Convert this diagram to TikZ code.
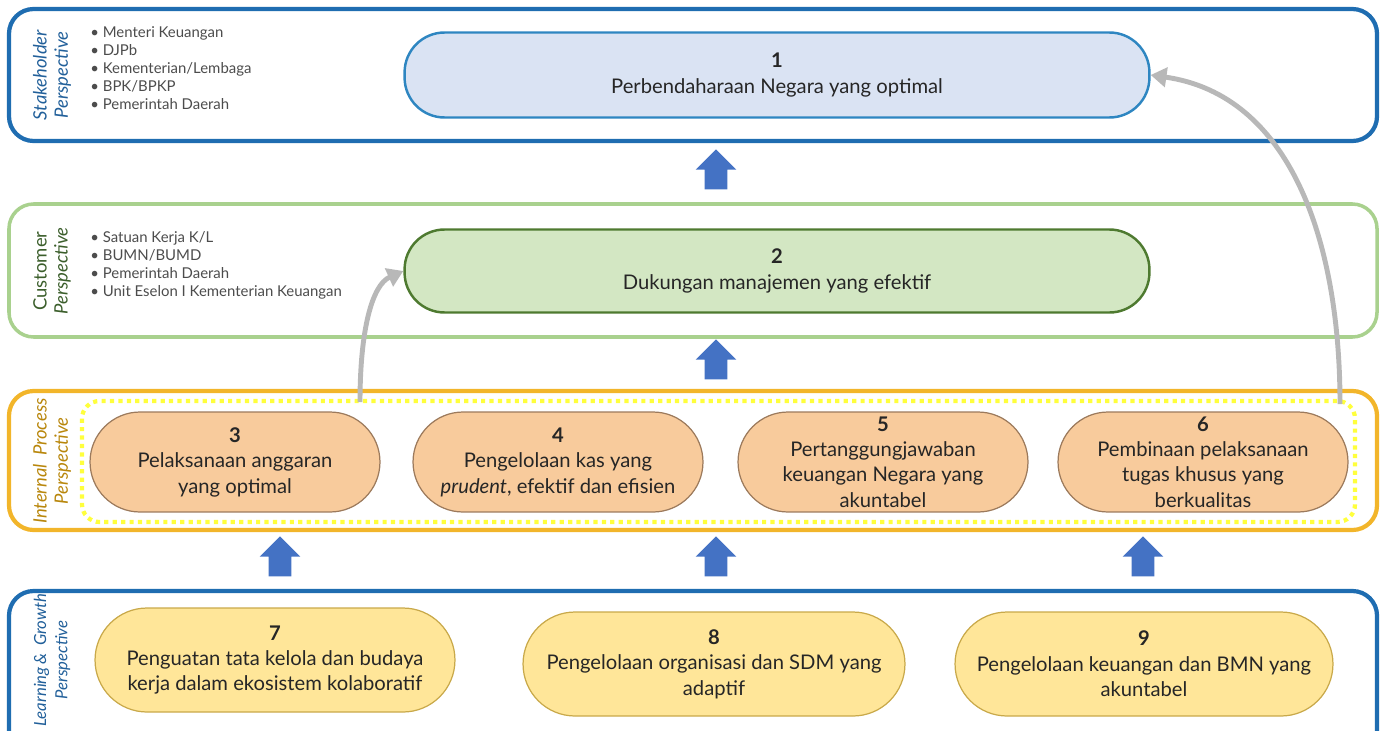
\documentclass[tikz,border=0pt]{standalone}
\usepackage{fontspec}
\setmainfont{Lato}
\usetikzlibrary{arrows.meta,shapes.arrows}
\definecolor{bandblue}{HTML}{1F6DB1}
\definecolor{goalblue}{HTML}{DAE3F3}
\definecolor{goalblueline}{HTML}{2E86C1}
\definecolor{bandgreen}{HTML}{A9D18E}
\definecolor{goalgreen}{HTML}{D3E7C3}
\definecolor{goalgreenline}{HTML}{4E7A30}
\definecolor{bandgold}{HTML}{F2B52A}
\definecolor{dotyellow}{HTML}{FFFF3C}
\definecolor{goalorange}{HTML}{F8CB9C}
\definecolor{goalorangeline}{HTML}{9C7A5C}
\definecolor{goalyellow}{HTML}{FFE699}
\definecolor{goalyellowline}{HTML}{C9A94A}
\definecolor{liftblue}{HTML}{4472C4}
\definecolor{sidegreen}{HTML}{3B5E2B}
\definecolor{sidegold}{HTML}{B8860B}
\definecolor{sideblue}{HTML}{22609A}
\tikzset{
  band/.style={line width=2.4pt, rounded corners=14pt},
  goal/.style={draw, line width=0.7pt, align=center, inner sep=0pt,
    font=\fontsize{11.5}{14.5}\selectfont, text=black!85},
  sidelabel/.style={rotate=90, align=center, font=\fontsize{10.5}{12}\selectfont},
  members/.style={anchor=north west, align=left, inner sep=0pt, text=black!70,
    font=\fontsize{8.5}{10.3}\selectfont},
  lift/.style={single arrow, draw=none, fill=liftblue, rotate=90, inner xsep=0pt,
    inner ysep=0.22cm, minimum height=0.8cm, single arrow head extend=0.18cm,
    single arrow head indent=0pt},
  feed/.style={line width=2.8pt, draw=black!28, -{Triangle[length=9pt,width=11pt]}}
}
\begin{document}
\begin{tikzpicture}[x=0.02cm, y=-0.02cm]
  \useasboundingbox (0,0) rectangle (1385,730);

  %%%%% BANDS %%%%%
  \draw[band, draw=bandblue] (9,9) rectangle (1377,141);
  \draw[band, draw=bandgreen, line width=2pt] (9,204) rectangle (1377,337);
  \draw[band, draw=bandgold] (9,391) rectangle (1377,530);
  \draw[dotyellow, line width=2.4pt, dash pattern=on 2.4pt off 2.4pt, rounded corners=10pt] (82,401) rectangle (1355,522);
  \draw[band, draw=bandblue] (9,591) rectangle (1377,760);

  %%%%% SIDE LABELS %%%%%
  \node[sidelabel, text=sideblue] (sl1) at (52,75) {\textit{Stakeholder}\\\textit{Perspective}};
  \node[sidelabel, text=sidegreen] (sl2) at (52,271) {Customer\\\textit{Perspective}};
  \node[sidelabel, text=sidegold] (sl3) at (52,461) {\textit{Internal\ \ Process}\\\textit{Perspective}};
  \node[sidelabel, text=sideblue, font=\fontsize{9.5}{12}\selectfont] (sl4) at (52,660) {\textit{Learning\,\&\ \ Growth}\\\textit{Perspective}};

  %%%%% MEMBERS %%%%%
  \node[members] (m1) at (90,26) {\textbullet\ Menteri Keuangan\\\textbullet\ DJPb\\\textbullet\ Kementerian/Lembaga\\\textbullet\ BPK/BPKP\\\textbullet\ Pemerintah Daerah};
  \node[members] (m2) at (90,231) {\textbullet\ Satuan Kerja K/L\\\textbullet\ BUMN/BUMD\\\textbullet\ Pemerintah Daerah\\\textbullet\ Unit Eselon I Kementerian Keuangan};

  %%%%% GOALS %%%%%
  \node[goal, fill=goalblue, draw=goalblueline, line width=1.4pt, minimum width=14.9cm, minimum height=1.7cm, rounded corners=0.8cm] (n1) at (777,75) {\textbf{1}\\Perbendaharaan Negara yang optimal};
  \node[goal, fill=goalgreen, draw=goalgreenline, line width=1.4pt, minimum width=14.9cm, minimum height=1.66cm, rounded corners=0.8cm] (n2) at (777,271) {\textbf{2}\\Dukungan manajemen yang efektif};

  \node[goal, fill=goalorange, draw=goalorangeline, minimum width=5.8cm, minimum height=2cm, rounded corners=1cm] (n3) at (235,462) {\textbf{3}\\Pelaksanaan anggaran\\yang optimal};
  \node[goal, fill=goalorange, draw=goalorangeline, minimum width=5.8cm, minimum height=2cm, rounded corners=1cm] (n4) at (558,462) {\textbf{4}\\Pengelolaan kas yang\\\textit{prudent}, efektif dan efisien};
  \node[goal, fill=goalorange, draw=goalorangeline, minimum width=5.8cm, minimum height=2cm, rounded corners=1cm] (n5) at (883,462) {\textbf{5}\\Pertanggungjawaban\\keuangan Negara yang\\akuntabel};
  \node[goal, fill=goalorange, draw=goalorangeline, minimum width=5.8cm, minimum height=2cm, rounded corners=1cm] (n6) at (1203,462) {\textbf{6}\\Pembinaan pelaksanaan\\tugas khusus yang\\berkualitas};

  \node[goal, fill=goalyellow, draw=goalyellowline, minimum width=7.2cm, minimum height=2.08cm, rounded corners=1.04cm] (n7) at (275,660) {\textbf{7}\\Penguatan tata kelola dan budaya\\kerja dalam ekosistem kolaboratif};
  \node[goal, fill=goalyellow, draw=goalyellowline, minimum width=7.64cm, minimum height=2.08cm, rounded corners=1.04cm] (n8) at (714,664) {\textbf{8}\\Pengelolaan organisasi dan SDM yang\\adaptif};
  \node[goal, fill=goalyellow, draw=goalyellowline, minimum width=7.56cm, minimum height=2.08cm, rounded corners=1.04cm] (n9) at (1144,664) {\textbf{9}\\Pengelolaan keuangan dan BMN yang\\akuntabel};

  %%%%% LIFTS %%%%%
  \node[lift] (up1) at (716,175) {};
  \node[lift] (up2) at (716,365) {};
  \node[lift] (up3) at (280,562) {};
  \node[lift] (up4) at (716,562) {};
  \node[lift] (up5) at (1143,562) {};

  %%%%% FEEDS %%%%%
  \coordinate (f3) at (360,402);
  \coordinate (f6) at (1340,404);
  \draw[feed] (f3) .. controls (360,330) and (372,285) .. (n2.west);
  \draw[feed] (f6) .. controls (1340,240) and (1290,95) .. (n1.east);
\end{tikzpicture}
\end{document}
